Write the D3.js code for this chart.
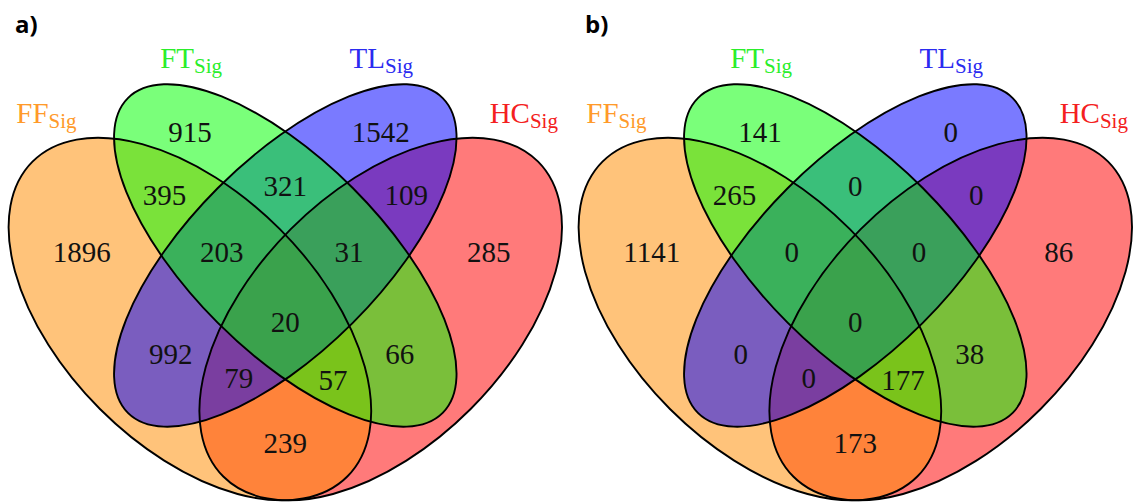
<!DOCTYPE html>
<html>
<head>
<meta charset="utf-8">
<script src="https://cdn.jsdelivr.net/npm/d3@7"></script>
<style>
  html, body { margin: 0; padding: 0; background: #fff; }
  svg { display: block; }
</style>
</head>
<body>
<script>
// ---------------- data ----------------
const categories = ["FF", "FT", "TL", "HC"];
const categorySub = "Sig";
const panelLabels = ["a)", "b)"];
// region keys (sets that contain the region)
const regionKeys = ["FF", "FT", "TL", "HC",
  "FF&FT", "FT&TL", "TL&HC",
  "FF&FT&TL", "FT&TL&HC", "FF&FT&TL&HC",
  "FF&TL", "FT&HC", "FF&TL&HC", "FF&FT&HC", "FF&HC"];
const countsA = [1896, 915, 1542, 285, 395, 321, 109, 203, 31, 20, 992, 66, 79, 57, 239];
const countsB = [1141, 141, 0, 86, 265, 0, 0, 0, 0, 0, 0, 38, 0, 177, 173];

// ---------------- layout (unit square, VennDiagram quad layout) ----------------
const ellipses = {
  FF: {cx: 0.35, cy: 0.47, a: 0.35, b: 0.20, rot: 45},
  FT: {cx: 0.50, cy: 0.57, a: 0.35, b: 0.15, rot: 45},
  TL: {cx: 0.50, cy: 0.57, a: 0.35, b: 0.15, rot: -45},
  HC: {cx: 0.65, cy: 0.47, a: 0.35, b: 0.20, rot: -45}
};
const fillColors = {FF: "#FF8C00", FT: "#00FF00", TL: "#0000FF", HC: "#FF0000"};
const labelColors = {FF: "#FF9A2A", FT: "#2BEE2B", TL: "#2B2BF0", HC: "#F42020"};
const drawOrder = ["HC", "FF", "TL", "FT"];
const regionPos = {
  "FF": [0.18, 0.575], "FT": [0.35, 0.765], "TL": [0.65, 0.765], "HC": [0.82, 0.575],
  "FF&FT": [0.31, 0.665], "FT&TL": [0.5, 0.68], "TL&HC": [0.69, 0.665],
  "FF&FT&TL": [0.40, 0.575], "FT&TL&HC": [0.60, 0.575], "FF&FT&TL&HC": [0.5, 0.465],
  "FF&TL": [0.32, 0.415], "FT&HC": [0.68, 0.415],
  "FF&TL&HC": [0.427, 0.377], "FF&FT&HC": [0.575, 0.375], "FF&HC": [0.5, 0.275]
};
const catPos = {FF: [0.1245, 0.778], FT: [0.352, 0.865], TL: [0.651, 0.865], HC: [0.875, 0.778]};

const W = 1138, H = 502;
const unit = 636, x0 = -32.7, yBase = 618, panelShift = 570;

const svg = d3.select("body").append("svg").attr("width", W).attr("height", H);
svg.append("rect").attr("width", W).attr("height", H).attr("fill", "#fff");

[countsA, countsB].forEach((counts, pi) => {
  const off = pi * panelShift;
  const x = d3.scaleLinear().domain([0, 1]).range([x0 + off, x0 + off + unit]);
  const y = d3.scaleLinear().domain([0, 1]).range([yBase, yBase - unit]);
  const len = v => x(v) - x(0);
  const g = svg.append("g");

  // fills
  drawOrder.forEach(k => {
    const e = ellipses[k];
    g.append("ellipse")
      .attr("cx", x(e.cx)).attr("cy", y(e.cy))
      .attr("rx", len(e.a)).attr("ry", len(e.b))
      .attr("transform", `rotate(${e.rot},${x(e.cx)},${y(e.cy)})`)
      .attr("fill", fillColors[k]).attr("fill-opacity", 0.52)
      .attr("stroke", "none");
  });
  // outlines
  categories.forEach(k => {
    const e = ellipses[k];
    g.append("ellipse")
      .attr("cx", x(e.cx)).attr("cy", y(e.cy))
      .attr("rx", len(e.a)).attr("ry", len(e.b))
      .attr("transform", `rotate(${e.rot},${x(e.cx)},${y(e.cy)})`)
      .attr("fill", "none").attr("stroke", "#000").attr("stroke-width", 1.9);
  });
  // counts
  regionKeys.forEach((k, i) => {
    const p = regionPos[k];
    g.append("text")
      .attr("x", x(p[0])).attr("y", y(p[1])).attr("dy", "0.35em")
      .attr("text-anchor", "middle")
      .attr("font-family", "'Liberation Serif', 'Times New Roman', serif")
      .attr("font-size", 29).attr("fill", "#111")
      .text(counts[i]);
  });
  // category labels
  categories.forEach(k => {
    const p = catPos[k];
    const t = g.append("text")
      .attr("x", x(p[0])).attr("y", y(p[1]))
      .attr("text-anchor", "middle")
      .attr("font-family", "'Liberation Serif', 'Times New Roman', serif")
      .attr("fill", labelColors[k]);
    t.append("tspan").attr("font-size", 29).text(k);
    t.append("tspan").attr("font-size", 21).attr("dy", 5).text(categorySub);
  });
  // panel label
  g.append("text")
    .attr("x", 15 + off).attr("y", 33)
    .attr("font-family", "'Open Sans', 'Liberation Sans', sans-serif")
    .attr("font-weight", "bold").attr("font-size", 24).attr("fill", "#000")
    .text(panelLabels[pi]);
});
</script>
</body>
</html>
